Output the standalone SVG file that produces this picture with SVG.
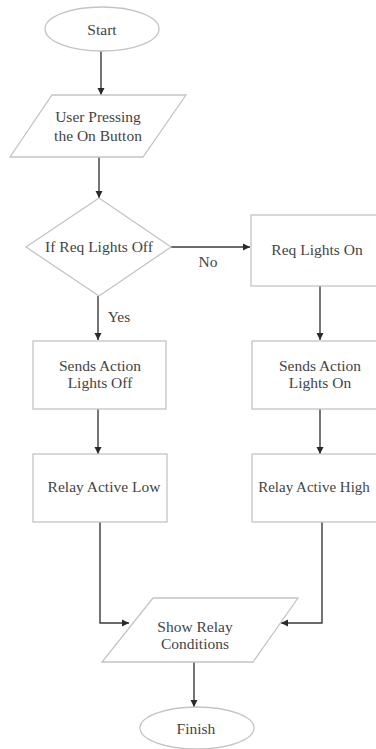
<svg xmlns="http://www.w3.org/2000/svg" width="376" height="749" viewBox="0 0 376 749">
<style>
.s{fill:#fff;stroke:#c4c4c4;stroke-width:1.3}
.t{font-family:"Liberation Serif","DejaVu Serif","Times New Roman",serif;font-size:15.5px;fill:#444;text-anchor:middle}
.c{fill:none;stroke:#3a3a3a;stroke-width:1.4}
</style>
<defs>
<marker id="a" markerWidth="8" markerHeight="8" refX="7" refY="4" orient="auto" markerUnits="userSpaceOnUse">
<path d="M0,0.5 L7,4 L0,7.5 Z" fill="#2a2a2a"/>
</marker>
</defs>
<rect width="376" height="749" fill="#fff"/>
<g id="connectors">
<line class="c" x1="101" y1="51" x2="101" y2="95" marker-end="url(#a)"/>
<line class="c" x1="99" y1="157" x2="99" y2="198" marker-end="url(#a)"/>
<line class="c" x1="171" y1="247" x2="250" y2="247" marker-end="url(#a)"/>
<line class="c" x1="98" y1="296" x2="98" y2="340" marker-end="url(#a)"/>
<line class="c" x1="98" y1="409" x2="98" y2="454" marker-end="url(#a)"/>
<line class="c" x1="320" y1="286" x2="320" y2="340" marker-end="url(#a)"/>
<line class="c" x1="320" y1="409" x2="320" y2="454" marker-end="url(#a)"/>
<polyline class="c" points="100,522 100,623 129,623" marker-end="url(#a)"/>
<polyline class="c" points="322,522 322,623 281,623" marker-end="url(#a)"/>
<line class="c" x1="194" y1="662" x2="194" y2="707" marker-end="url(#a)"/>
<text class="t" x="208" y="267">No</text>
<text class="t" x="119" y="322">Yes</text>
</g>
<g id="start">
<ellipse class="s" cx="102" cy="29" rx="57" ry="22"/>
<text class="t" x="102" y="35">Start</text>
</g>
<g id="user">
<polygon class="s" points="52,95 186,95 143,157 10,157"/>
<text class="t" x="98" y="122">User Pressing</text>
<text class="t" x="98" y="141">the On Button</text>
</g>
<g id="decision">
<polygon class="s" points="99,198 171,247 99,296 26,247"/>
<text class="t" x="99" y="252">If Req Lights Off</text>
</g>
<g id="reqOn">
<rect class="s" x="251" y="215" width="132" height="71"/>
<text class="t" x="317" y="255">Req Lights On</text>
</g>
<g id="sendOff">
<rect class="s" x="33" y="341" width="133" height="68"/>
<text class="t" x="100" y="371">Sends Action</text>
<text class="t" x="100" y="388">Lights Off</text>
</g>
<g id="sendOn">
<rect class="s" x="252" y="341" width="131" height="68"/>
<text class="t" x="320" y="371">Sends Action</text>
<text class="t" x="320" y="388">Lights On</text>
</g>
<g id="relayLow">
<rect class="s" x="33" y="454" width="134" height="68"/>
<text class="t" x="104" y="492">Relay Active Low</text>
</g>
<g id="relayHigh">
<rect class="s" x="252" y="454" width="131" height="68"/>
<text class="t" x="314" y="492" style="font-size:15px">Relay Active High</text>
</g>
<g id="show">
<polygon class="s" points="153,598 298,598 253,662 102,662"/>
<text class="t" x="195" y="632">Show Relay</text>
<text class="t" x="195" y="649">Conditions</text>
</g>
<g id="finish">
<ellipse class="s" cx="197" cy="728" rx="57" ry="21"/>
<text class="t" x="196" y="734">Finish</text>
</g>
</svg>
